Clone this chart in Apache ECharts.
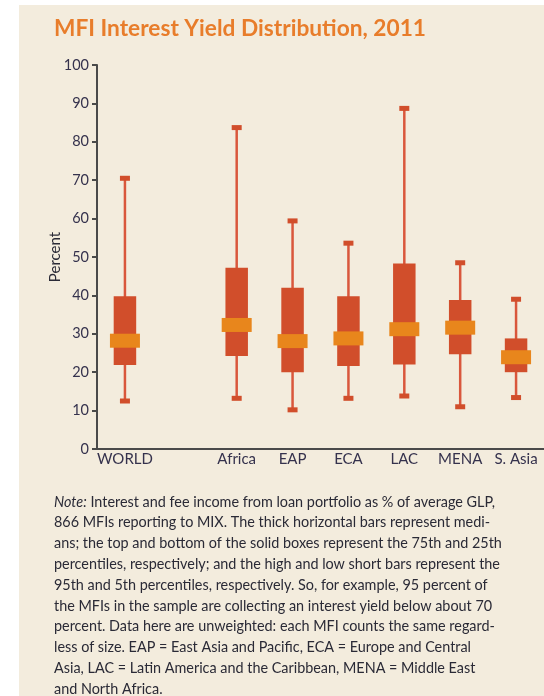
<!DOCTYPE html>
<html>
<head>
<meta charset="utf-8">
<script src="https://cdn.jsdelivr.net/npm/echarts@6/dist/echarts.min.js"></script>
<style>
  html, body { margin: 0; padding: 0; background: #ffffff; }
  #bg { position: absolute; left: 19px; top: 5px; width: 525px; height: 691px; background: #f3ecdd; }
  #chart { position: absolute; left: 0; top: 0; width: 544px; height: 696px; }
</style>
</head>
<body>
<div id="bg"></div>
<div id="chart"></div>
<script>
// ---- Data ----
const categories = ['WORLD', '', 'Africa', 'EAP', 'ECA', 'LAC', 'MENA', 'S. Asia'];
const p5     = [12.5, null, 13.2, 10.2, 13.2, 13.8, 11.0, 13.4];
const p25    = [21.9, null, 24.2, 20.0, 21.6, 22.0, 24.7, 20.0];
const median = [28.2, null, 32.3, 28.1, 28.8, 31.2, 31.6, 23.9];
const p75    = [39.8, null, 47.2, 42.0, 39.8, 48.3, 38.8, 28.8];
const p95    = [70.5, null, 83.7, 59.4, 53.6, 88.7, 48.5, 39.0];
const yTicks = { min: 0, max: 100, interval: 10 };

const titleText = 'MFI Interest Yield Distribution, 2011';
const noteLines = [
  '{i|Note:} Interest and fee income from loan portfolio as % of average GLP,',
  '866 MFIs reporting to MIX. The thick horizontal bars represent medi-',
  'ans; the top and bottom of the solid boxes represent the 75th and 25th',
  'percentiles, respectively; and the high and low short bars represent the',
  '95th and 5th percentiles, respectively. So, for example, 95 percent of',
  'the MFIs in the sample are collecting an interest yield below about 70',
  'percent. Data here are unweighted: each MFI counts the same regard-',
  'less of size. EAP = East Asia and Pacific, ECA = Europe and Central',
  'Asia, LAC = Latin America and the Caribbean, MENA = Middle East',
  'and North Africa.'
];

// ---- Build series data ----
const boxData = [];
categories.forEach((c, i) => {
  if (median[i] != null) boxData.push([i, p5[i], p25[i], median[i], p75[i], p95[i]]);
});

const FONT = 'Lato, "Open Sans", sans-serif';
const BOX = '#d14e2b';
const MED = '#e8861c';
const WHISK = '#d9573c';
const TEXT = '#35324d';
const NOTE = '#2a2a36';
const NOTE_SIZE = 14.4;

const chart = echarts.init(document.getElementById('chart'), null, { renderer: 'canvas' });

const noteGraphics = noteLines.map((t, i) => ({
  type: 'text',
  left: 54,
  top: 495 + i * 20.8,
  style: {
    text: t,
    fontSize: NOTE_SIZE,
    fontFamily: FONT,
    fill: NOTE,
    rich: { i: { fontStyle: 'italic', fontSize: NOTE_SIZE, fontFamily: FONT, fill: NOTE } }
  }
}));

chart.setOption({
  backgroundColor: 'transparent',
  animation: false,
  title: {
    text: titleText,
    left: 54,
    top: 17,
    padding: 0,
    textStyle: { fontFamily: FONT, fontSize: 22.7, fontWeight: 'bold', color: '#e87d2b' }
  },
  grid: { left: 97, top: 65, right: -3, bottom: 247, containLabel: false },
  xAxis: {
    type: 'category',
    data: categories,
    axisTick: { show: false },
    axisLine: { lineStyle: { color: '#4a4a4a', width: 2 } },
    axisLabel: { color: TEXT, fontFamily: FONT, fontSize: 15, margin: 3, interval: 0 },
    splitLine: { show: false }
  },
  yAxis: {
    type: 'value',
    min: yTicks.min, max: yTicks.max, interval: yTicks.interval,
    name: 'Percent',
    nameLocation: 'middle',
    nameGap: 34,
    nameMoveOverlap: false,
    nameTextStyle: { color: NOTE, fontFamily: FONT, fontSize: 15 },
    axisLine: { show: true, lineStyle: { color: '#4a4a4a', width: 2 } },
    axisTick: { show: true, length: 5, lineStyle: { color: '#4a4a4a', width: 2 } },
    axisLabel: { color: TEXT, fontFamily: FONT, fontSize: 14.5, margin: 8 },
    splitLine: { show: false }
  },
  graphic: noteGraphics,
  series: [{
    type: 'custom',
    encode: { x: 0, y: [1, 2, 3, 4, 5] },
    data: boxData,
    renderItem: function (params, api) {
      const x = api.value(0);
      const lo = api.coord([x, api.value(1)]);
      const q1 = api.coord([x, api.value(2)]);
      const md = api.coord([x, api.value(3)]);
      const q3 = api.coord([x, api.value(4)]);
      const hi = api.coord([x, api.value(5)]);
      const cx = lo[0];
      const boxW = 22.5, medW = 30, medH = 14, capW = 10, capH = 5;
      return {
        type: 'group',
        children: [
          { type: 'line', shape: { x1: cx, y1: hi[1], x2: cx, y2: lo[1] },
            style: { stroke: WHISK, lineWidth: 2.5 } },
          { type: 'rect', shape: { x: cx - capW / 2, y: hi[1] - capH / 2, width: capW, height: capH },
            style: { fill: BOX } },
          { type: 'rect', shape: { x: cx - capW / 2, y: lo[1] - capH / 2, width: capW, height: capH },
            style: { fill: BOX } },
          { type: 'rect', shape: { x: cx - boxW / 2, y: q3[1], width: boxW, height: q1[1] - q3[1] },
            style: { fill: BOX } },
          { type: 'rect', shape: { x: cx - medW / 2, y: md[1] - medH / 2, width: medW, height: medH },
            style: { fill: MED } }
        ]
      };
    }
  }]
});
</script>
</body>
</html>
